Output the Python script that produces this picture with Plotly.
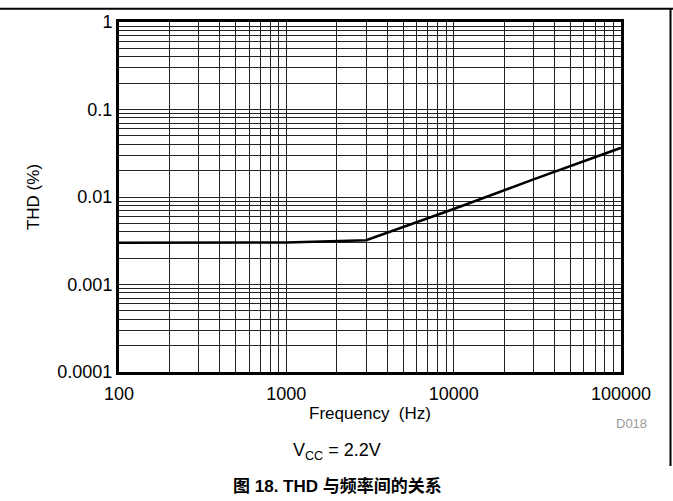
import plotly.graph_objects as go

# THD vs frequency, VCC = 2.2 V
freq_hz = [100, 1000, 3000, 10000, 30000, 100000]
thd_pct = [0.003, 0.00302, 0.0032, 0.0073, 0.0159, 0.0365]

x_tick_vals = [100, 1000, 10000, 100000]
x_tick_text = ["100", "1000", "10000", "100000"]
y_tick_vals = [0.0001, 0.001, 0.01, 0.1, 1]
y_tick_text = ["0.0001", "0.001", "0.01", "0.1", "1"]

x_minor = [m * 10 ** e for e in range(2, 5) for m in range(2, 10)]
y_minor = [m * 10.0 ** e for e in range(-4, 0) for m in range(2, 10)]

FONT = "Liberation Sans, Arial, sans-serif"
GRID = "#222222"

fig = go.Figure()
fig.add_trace(go.Scatter(
    x=freq_hz, y=thd_pct, mode="lines",
    line=dict(color="black", width=2.5),
    showlegend=False, hoverinfo="skip",
))

axis_common = dict(
    type="log",
    tickmode="array",
    showgrid=True, gridcolor=GRID, gridwidth=1,
    showline=True, linecolor="black", linewidth=3, mirror=True,
    ticks="", zeroline=False,
    tickfont=dict(family=FONT, size=18, color="black"),
)

fig.update_xaxes(
    **axis_common,
    range=[2, 5],
    tickvals=x_tick_vals, ticktext=x_tick_text,
    ticklabelstandoff=3,
    minor=dict(tickvals=x_minor, showgrid=True, gridcolor=GRID, gridwidth=1, ticks=""),
    title=dict(text="Frequency  (Hz)", font=dict(family=FONT, size=17, color="black"), standoff=0),
)
fig.update_yaxes(
    **axis_common,
    range=[-4, 0],
    tickvals=y_tick_vals, ticktext=y_tick_text,
    minor=dict(tickvals=y_minor, showgrid=True, gridcolor=GRID, gridwidth=1, ticks=""),
    title=dict(text="THD (%)", font=dict(family=FONT, size=17, color="black"), standoff=14),
)

# page frame and annotation placement in pixel terms
W, H = 673, 501
L, R, T, B = 119, 52, 18, 129
pw, ph = W - L - R, H - T - B

def px_to_paper_x(px):
    return (px - L) / pw

def px_to_paper_y(py):
    return (H - B - py) / ph

fig.add_annotation(
    text="D018", xref="paper", yref="paper", x=px_to_paper_x(631), y=px_to_paper_y(424),
    showarrow=False, xanchor="center", yanchor="middle",
    font=dict(family=FONT, size=13, color="#9a9a9a"),
)
fig.add_annotation(
    text="V<sub>CC</sub> = 2.2V", xref="paper", yref="paper", x=px_to_paper_x(337), y=px_to_paper_y(452),
    showarrow=False, xanchor="center", yanchor="middle",
    font=dict(family=FONT, size=18, color="black"),
)
fig.add_annotation(
    text="<b>图 18. THD 与频率间的关系</b>", xref="paper", yref="paper",
    x=px_to_paper_x(337), y=px_to_paper_y(487),
    showarrow=False, xanchor="center", yanchor="middle",
    font=dict(family="Liberation Sans, Noto Sans CJK SC, sans-serif", size=17, color="black"),
)

fig.add_shape(type="line", xref="paper", yref="paper",
              x0=px_to_paper_x(0), x1=px_to_paper_x(W), y0=px_to_paper_y(4.5), y1=px_to_paper_y(4.5),
              line=dict(color="black", width=2))
fig.add_shape(type="line", xref="paper", yref="paper",
              x0=px_to_paper_x(670.5), x1=px_to_paper_x(670.5), y0=px_to_paper_y(4), y1=px_to_paper_y(467),
              line=dict(color="black", width=2))

fig.update_layout(
    width=W, height=H,
    margin=dict(l=L, r=R, t=T, b=B),
    paper_bgcolor="white", plot_bgcolor="white",
    font=dict(family=FONT, color="black"),
)

fig.write_html("out.html")
